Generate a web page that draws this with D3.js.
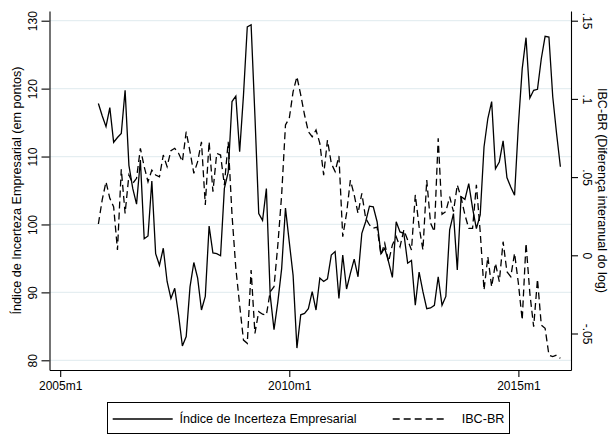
<!DOCTYPE html>
<html>
<head>
<meta charset="utf-8">
<script src="https://cdn.jsdelivr.net/npm/d3@7"></script>
<style>
  html, body { margin: 0; padding: 0; background: #fff; }
  svg { display: block; }
  text { font-family: "Liberation Sans", Arial, Helvetica, sans-serif; fill: #000; }
</style>
</head>
<body>
<svg id="chart" width="608" height="434"></svg>
<script>
// Monthly series, first observation 2005m11 (month index 10 counted from 2005m1)
const firstMonthIndex = 10;

// Índice de Incerteza Empresarial (em pontos) — left axis
const incerteza = [
  117.8, 116.0, 114.4, 117.2, 112.1, 112.8, 113.4, 119.75, 108.7, 105.3,
  103.0, 109.5, 97.9, 98.3, 106.4, 95.7, 94.0, 96.5, 91.6, 89.1,
  90.6, 86.7, 82.1, 83.5, 90.8, 94.4, 92.1, 87.4, 89.4, 99.75,
  95.8, 95.7, 95.4, 105.3, 107.7, 118.1, 118.9, 110.7, 119.0, 129.1,
  129.4, 116.0, 101.6, 100.6, 105.3, 89.6, 84.5, 88.6, 93.5, 102.4,
  97.4, 92.5, 81.8, 86.7, 86.9, 87.6, 90.1, 87.4, 92.1, 91.6,
  92.0, 95.5, 96.0, 89.1, 95.5, 90.5, 92.8, 94.9, 92.3, 98.7,
  100.4, 102.7, 102.6, 100.4, 95.7, 96.5, 94.5, 92.2, 100.4, 98.9,
  98.7, 94.3, 94.7, 88.1, 93.0, 90.1, 87.6, 87.7, 88.1, 92.3,
  88.1, 89.4, 99.2, 101.6, 93.3, 104.1, 103.7, 106.0, 102.4, 99.4,
  101.4, 111.4, 115.6, 118.1, 108.2, 109.2, 112.3, 106.9, 105.5, 104.3,
  114.6, 122.9, 127.5, 118.6, 119.75, 119.9, 124.4, 127.7, 127.6, 118.8,
  113.4, 108.5
];

// IBC-BR, diferença interanual do log — right axis
const ibcbr = [
  0.0200, 0.0354, 0.0470, 0.0364, 0.0310, 0.0034, 0.0550, 0.0268, 0.0513, 0.0460,
  0.0492, 0.0684, 0.0567, 0.0470, 0.0545, 0.0513, 0.0502, 0.0641, 0.0567, 0.0669,
  0.0684, 0.0652, 0.0599, 0.0790, 0.0663, 0.0524, 0.0599, 0.0726, 0.0322, 0.0726,
  0.0407, 0.0652, 0.0641, 0.0449, 0.0726, 0.0258, -0.0083, -0.0318, -0.0542, -0.0563,
  -0.0094, -0.0499, -0.0360, -0.0377, -0.0382, -0.0233, -0.0201, 0.0066, 0.0386, 0.0833,
  0.0876, 0.1046, 0.1142, 0.1025, 0.0897, 0.0790, 0.0758, 0.0801, 0.0716, 0.0513,
  0.0737, 0.0588, 0.0535, 0.0635, 0.0119, 0.0268, 0.0481, 0.0386, 0.0268, 0.0396,
  0.0237, 0.0194, 0.0173, 0.0180, 0.0002, 0.0077, -0.0041, 0.0066, 0.0119, 0.0055,
  0.0162, 0.0098, 0.0034, 0.0386, 0.0183, 0.0034, 0.0481, 0.0205, 0.0151, 0.0748,
  0.0262, 0.0279, 0.0375, 0.0279, 0.0450, 0.0368, 0.0258, 0.0172, 0.0172, 0.0450,
  0.0151, -0.0222, -0.0009, -0.0201, -0.0051, -0.0169, 0.0087, -0.0105, -0.0137, 0.0013,
  -0.0179, -0.0414, 0.0077, -0.0243, -0.0457, -0.0153, -0.0446, -0.0467, -0.0638, -0.0648,
  -0.0638, -0.0659
];

// Axis ticks
const xTickMonths = [0, 60, 120];
const xTickLabels = ["2005m1", "2010m1", "2015m1"];
const yLeftTicks = [80, 90, 100, 110, 120, 130];
const yRightTicks = [-0.05, 0, 0.05, 0.1, 0.15];
const yRightLabels = ["-.05", "0", ".05", ".1", ".15"];

const seriesNames = ["Índice de Incerteza Empresarial", "IBC-BR"];
const leftTitle = "Índice de Incerteza Empresarial (em pontos)";
const rightTitle = "IBC-BR (Diferença interanual do log)";

// Layout of the plot region
const plot = { left: 49.5, right: 571, top: 11, bottom: 370 };
const tickFont = "12px";
const titleFont = "12.6px";

const svg = d3.select("#chart");

const x = d3.scaleLinear().domain([-2.8, 133.78]).range([plot.left, plot.right]);
const yL = d3.scaleLinear().domain([78.572, 131.428]).range([plot.bottom, plot.top]);
const yR = d3.scaleLinear().domain([-0.07334, 0.15620]).range([plot.bottom, plot.top]);

// Horizontal grid lines at the left-axis ticks
svg.append("g")
  .selectAll("line")
  .data(yLeftTicks)
  .join("line")
  .attr("x1", plot.left)
  .attr("x2", plot.right)
  .attr("y1", d => yL(d))
  .attr("y2", d => yL(d))
  .attr("stroke", "#e5eef1")
  .attr("stroke-width", 1.2);

// Series lines
const pts1 = incerteza.map((v, i) => [firstMonthIndex + i, v]);
const pts2 = ibcbr.map((v, i) => [firstMonthIndex + i, v]);

svg.append("path")
  .datum(pts1)
  .attr("fill", "none")
  .attr("stroke", "#000")
  .attr("stroke-width", 1.3)
  .attr("d", d3.line().x(d => x(d[0])).y(d => yL(d[1])));

svg.append("path")
  .datum(pts2)
  .attr("fill", "none")
  .attr("stroke", "#000")
  .attr("stroke-width", 1.3)
  .attr("stroke-dasharray", "7,4")
  .attr("d", d3.line().x(d => x(d[0])).y(d => yR(d[1])));

// Left axis
const gL = svg.append("g")
  .attr("transform", `translate(${plot.left},0)`)
  .call(d3.axisLeft(yL).tickValues(yLeftTicks).tickSize(8).tickSizeOuter(0).tickFormat(d3.format("d")));
gL.selectAll("text")
  .attr("x", null).attr("dy", null)
  .attr("text-anchor", "middle")
  .attr("transform", "translate(-13,0) rotate(-90)")
  .style("font-size", tickFont);

// Right axis
const gR = svg.append("g")
  .attr("transform", `translate(${plot.right},0)`)
  .call(d3.axisRight(yR).tickValues(yRightTicks).tickSize(7).tickSizeOuter(0)
    .tickFormat((d, i) => yRightLabels[i]));
gR.selectAll("text")
  .attr("x", null).attr("dy", null)
  .attr("text-anchor", "middle")
  .attr("transform", "translate(11.5,0) rotate(90)")
  .style("font-size", tickFont);

// Bottom axis
const gB = svg.append("g")
  .attr("transform", `translate(0,${plot.bottom})`)
  .call(d3.axisBottom(x).tickValues(xTickMonths).tickSize(7).tickSizeOuter(0)
    .tickFormat((d, i) => xTickLabels[i]));
gB.selectAll("text")
  .attr("y", 20).attr("dy", null)
  .style("font-size", tickFont);

svg.selectAll(".domain").attr("stroke", "#000").attr("stroke-width", 1.1);
svg.selectAll(".tick line").attr("stroke", "#000").attr("stroke-width", 1.1);
svg.selectAll(".tick text").attr("fill", "#000").style("font-family", "'Liberation Sans', Arial, sans-serif");

// Axis titles
svg.append("text")
  .attr("transform", `translate(21,${(plot.top + plot.bottom) / 2}) rotate(-90)`)
  .attr("text-anchor", "middle")
  .style("font-size", titleFont)
  .text(leftTitle);

svg.append("text")
  .attr("transform", `translate(597.5,${(plot.top + plot.bottom) / 2}) rotate(90)`)
  .attr("text-anchor", "middle")
  .style("font-size", titleFont)
  .text(rightTitle);

// Legend
const legend = svg.append("g");
legend.append("rect")
  .attr("x", 107.5).attr("y", 402.5)
  .attr("width", 402).attr("height", 31)
  .attr("fill", "#fff").attr("stroke", "#000").attr("stroke-width", 1);

legend.append("line")
  .attr("x1", 112.7).attr("x2", 172.7).attr("y1", 419).attr("y2", 419)
  .attr("stroke", "#000").attr("stroke-width", 1.3);
legend.append("text")
  .attr("x", 179.5).attr("y", 423.3)
  .style("font-size", titleFont)
  .text(seriesNames[0]);

legend.append("line")
  .attr("x1", 392.7).attr("x2", 446).attr("y1", 419).attr("y2", 419)
  .attr("stroke", "#000").attr("stroke-width", 1.3)
  .attr("stroke-dasharray", "7,4");
legend.append("text")
  .attr("x", 461.7).attr("y", 423.3)
  .style("font-size", titleFont)
  .text(seriesNames[1]);
</script>
</body>
</html>
